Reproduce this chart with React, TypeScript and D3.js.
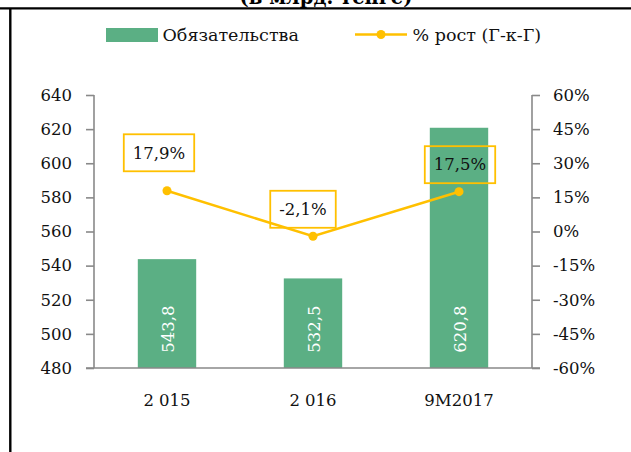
import * as d3 from 'd3';
import { useRef, useEffect } from 'react';

// chart data
const categories = ['2 015', '2 016', '9M2017'];
const liabilities = [543.8, 532.5, 620.8];
const growth = [17.9, -2.1, 17.5];
const growthLabels = ['17,9%', '-2,1%', '17,5%'];
const barLabels = ['543,8', '532,5', '620,8'];
const leftTicks = [480, 500, 520, 540, 560, 580, 600, 620, 640];
const rightTicks = [-60, -45, -30, -15, 0, 15, 30, 45, 60];

// label box offsets from the point (layout only)
const boxShift = [[-8, -38], [-10, -27], [1, -27]];

export default function App() {
  const ref = useRef<SVGSVGElement>(null);

  useEffect(() => {
    const width = 631;
    const height = 452;
    const marginLeft = 94;
    const marginRight = 99;
    const marginTop = 95;
    const marginBottom = 84;
    const font = "'DejaVu Serif', serif";
    const fontSize = 16.5;
    const green = '#5BAF84';
    const gold = '#FFC000';
    const axisGrey = '#898989';

    const svg = d3.select(ref.current)
      .attr('width', width)
      .attr('height', height)
      .attr('viewBox', `0 0 ${width} ${height}`)
      .style('font-family', font);

    svg.selectAll('*').remove();

    svg.append('rect').attr('width', width).attr('height', height).attr('fill', '#fff');

    // frame + title (cut off at the top, as in the source)
    svg.append('text')
      .attr('x', 326).attr('y', 4)
      .attr('text-anchor', 'middle')
      .attr('font-size', 19.5)
      .attr('font-weight', 'bold')
      .text('(в млрд. тенге)');
    svg.append('line').attr('x1', 0).attr('x2', width).attr('y1', 8.3).attr('y2', 8.3)
      .attr('stroke', '#000').attr('stroke-width', 2.2);
    svg.append('line').attr('x1', 10.3).attr('x2', 10.3).attr('y1', 8).attr('y2', height)
      .attr('stroke', '#000').attr('stroke-width', 2.4);

    const x = d3.scaleBand()
      .domain(categories)
      .range([marginLeft, width - marginRight])
      .paddingInner(0.6)
      .paddingOuter(0.3);

    const y = d3.scaleLinear()
      .domain([480, 640])
      .range([height - marginBottom, marginTop]);

    const y2 = d3.scaleLinear()
      .domain([-60, 60])
      .range([height - marginBottom, marginTop]);

    // bars
    svg.append('g')
      .selectAll('rect')
      .data(liabilities)
      .join('rect')
        .attr('x', (_, i) => x(categories[i])!)
        .attr('y', d => y(d))
        .attr('width', x.bandwidth())
        .attr('height', d => y(480) - y(d))
        .attr('fill', green);

    // bar value labels (rotated)
    svg.append('g')
      .selectAll('text')
      .data(barLabels)
      .join('text')
        .attr('transform', (_, i) => `translate(${x(categories[i])! + x.bandwidth() / 2 + 1},329) rotate(-90)`)
        .attr('text-anchor', 'middle')
        .attr('dy', '0.35em')
        .attr('font-size', fontSize)
        .attr('fill', '#fff')
        .text(d => d);

    // axes
    const left = svg.append('g')
      .attr('transform', `translate(${marginLeft},0)`)
      .call(d3.axisLeft(y).tickValues(leftTicks).tickSize(8).tickPadding(14).tickFormat(d3.format('d')));
    const right = svg.append('g')
      .attr('transform', `translate(${width - marginRight},0)`)
      .call(d3.axisRight(y2).tickValues(rightTicks).tickSize(8).tickPadding(13).tickFormat(d => `${d}%`));
    const bottom = svg.append('g')
      .attr('transform', `translate(0,${height - marginBottom})`)
      .call(d3.axisBottom(x).tickSize(0).tickPadding(26));

    for (const g of [left, right, bottom]) {
      g.attr('font-family', font).attr('font-size', fontSize);
      g.selectAll('.domain').attr('stroke', axisGrey).attr('stroke-width', 1.6);
      g.selectAll('.tick line').attr('stroke', axisGrey).attr('stroke-width', 1.6);
      g.selectAll('.tick text').attr('fill', '#111');
    }
    left.select('.domain').attr('d', `M0,${marginTop}V${height - marginBottom}`);
    right.select('.domain').attr('d', `M0,${marginTop}V${height - marginBottom}`);
    bottom.select('.domain').attr('d', `M${marginLeft - 8},0H${width - marginRight + 8}`);

    // growth line
    const cx = (i: number) => x(categories[i])! + x.bandwidth() / 2;
    const line = d3.line<number>()
      .x((_, i) => cx(i))
      .y(d => y2(d));

    svg.append('path')
      .datum(growth)
      .attr('d', line)
      .attr('fill', 'none')
      .attr('stroke', gold)
      .attr('stroke-width', 2.5);

    svg.append('g')
      .selectAll('circle')
      .data(growth)
      .join('circle')
        .attr('cx', (_, i) => cx(i))
        .attr('cy', d => y2(d))
        .attr('r', 4.5)
        .attr('fill', gold);

    // growth labels in boxes
    growth.forEach((d, i) => {
      const bx = cx(i) + boxShift[i][0];
      const by = y2(d) + boxShift[i][1];
      const g = svg.append('g');
      const rect = g.append('rect');
      const t = g.append('text')
        .attr('x', bx)
        .attr('y', by)
        .attr('dy', '0.35em')
        .attr('text-anchor', 'middle')
        .attr('font-size', fontSize)
        .attr('fill', '#111')
        .text(growthLabels[i]);
      const w = (t.node() as SVGTextElement).getComputedTextLength() + 18;
      rect.attr('x', bx - w / 2).attr('y', by - 18.5)
        .attr('width', w).attr('height', 37)
        .attr('fill', 'none')
        .attr('stroke', gold)
        .attr('stroke-width', 1.8);
    });

    // legend
    const legend = svg.append('g').attr('font-size', 17.5);
    legend.append('rect').attr('x', 106).attr('y', 28).attr('width', 52).attr('height', 14).attr('fill', green);
    legend.append('text').attr('x', 162.5).attr('y', 35).attr('dy', '0.35em').attr('fill', '#111').text('Обязательства');
    legend.append('line').attr('x1', 355).attr('x2', 407).attr('y1', 34.5).attr('y2', 34.5)
      .attr('stroke', gold).attr('stroke-width', 2.5);
    legend.append('circle').attr('cx', 381).attr('cy', 34.5).attr('r', 4.5).attr('fill', gold);
    legend.append('text').attr('x', 412.5).attr('y', 35).attr('dy', '0.35em').attr('fill', '#111').text('% рост (Г-к-Г)');
  }, []);

  return (
    <svg ref={ref} style={{ position: 'absolute', left: 0, top: 0, display: 'block' }}></svg>
  );
}
